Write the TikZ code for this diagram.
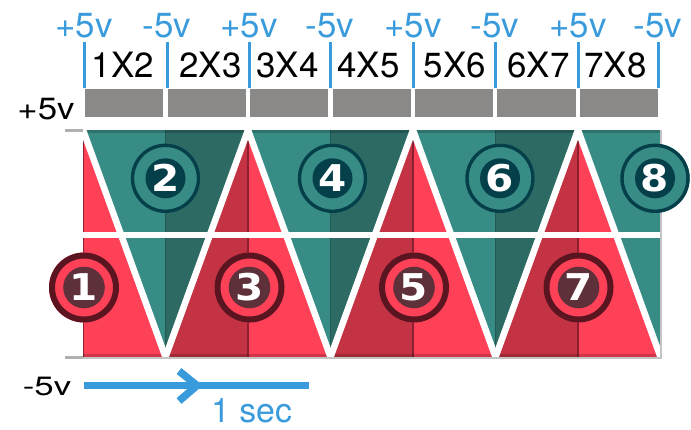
\documentclass[tikz,border=0pt]{standalone}
\usepackage{fontspec}
\usepackage{graphicx}
\setmainfont{TeX Gyre Heros}
\newfontfamily\numfont{DejaVu Sans}
\definecolor{redL}{HTML}{FF4158}
\definecolor{redD}{HTML}{C43343}
\definecolor{redS}{HTML}{8C2030}
\definecolor{tealL}{HTML}{388C86}
\definecolor{tealD}{HTML}{2C6A63}
\definecolor{tealS}{HTML}{225952}
\definecolor{ringT}{HTML}{053F4A}
\definecolor{ringR}{HTML}{5A1521}
\definecolor{diskR}{HTML}{5E3039}
\definecolor{barG}{HTML}{8A8987}
\definecolor{blueC}{HTML}{3A9BDC}
\definecolor{shadowG}{HTML}{C4C4C4}
\tikzset{
  lbl/.style={anchor=base, inner sep=0pt, font=\fontsize{35}{40}\selectfont},
  bluelbl/.style={lbl, text=blueC},
  numlbl/.style={inner sep=0pt, text=white, font=\numfont\bfseries\fontsize{37}{37}\selectfont},
  whiteline/.style={white, line width=6.5bp, line join=miter},
}
\newcommand{\tealcircle}[3]{%
  \fill[tealL] (#1,#2) circle (34.7bp);
  \draw[ringT, line width=3.4bp] (#1,#2) circle (33bp);
  \fill[ringT] (#1,#2) circle (20bp);
  \node[numlbl] (num#3) at (#1,#2) {\scalebox{1.1}[1]{#3}};
}
\newcommand{\redcircle}[3]{%
  \fill[redL] (#1,#2) circle (35bp);
  \draw[ringR, line width=6bp] (#1,#2) circle (32bp);
  \fill[diskR] (#1,#2) circle (20.8bp);
  \node[numlbl] (num#3) at (#1,#2) {\scalebox{1.1}[1]{#3}};
}
\begin{document}
\begin{tikzpicture}[x=1bp,y=-1bp]
\useasboundingbox (0,0) rectangle (691,429);

% panel
\begin{scope}
\clip (83,130) rectangle (660,357);
\foreach \k in {1,3,5,7} {
  \pgfmathsetmacro\xl{83+(\k-1)*82.5}
  \pgfmathsetmacro\xm{83+\k*82.5}
  \pgfmathsetmacro\xr{83+(\k+1)*82.5}
  \fill[tealL] (\xl,130) -- (\xm,130) -- (\xm,357) -- cycle;
  \fill[tealD] (\xm,130) -- (\xr,130) -- (\xm,357) -- cycle;
  \draw[tealS, line width=1.5bp] (\xm,130) -- (\xm,357);
}
\foreach \k in {0,2,4,6} {
  \pgfmathsetmacro\xl{83+(\k-1)*82.5}
  \pgfmathsetmacro\xm{83+\k*82.5}
  \pgfmathsetmacro\xr{83+(\k+1)*82.5}
  \fill[redD] (\xm,130) -- (\xm,357) -- (\xl,357) -- cycle;
  \fill[redL] (\xm,130) -- (\xr,357) -- (\xm,357) -- cycle;
  \draw[redS, line width=1.5bp] (\xm,130) -- (\xm,357);
}
\fill[black, opacity=0.18] (83,130) rectangle (660,133);
\fill[black, opacity=0.18] (83,354) rectangle (660,357);
\fill[white] (83,232) rectangle (660,238);
\foreach \k in {0,2,4,6} {
  \pgfmathsetmacro\xl{83+(\k-1)*82.5}
  \pgfmathsetmacro\xm{83+\k*82.5}
  \pgfmathsetmacro\xr{83+(\k+1)*82.5}
  \draw[whiteline] (\xl,357) -- (\xm,130) -- (\xr,357);
}
\end{scope}
\draw[shadowG, line width=2bp] (83,358) -- (661,358) -- (661,130);
\draw[shadowG!90!black, line width=3bp] (65,130.5) -- (83,130.5);
\draw[shadowG!90!black, line width=3bp] (65,357.5) -- (83,357.5);

% grey bars
\foreach \a/\b [count=\i] in {85/163,168/246,250/328,333/411,415/493,497/576,580/658}
  \fill[barG] (\a,89) rectangle (\b,117);

% blue ticks and labels
\foreach \x/\t [count=\i] in {84/+5v,167/-5v,249/+5v,330/-5v,413/+5v,495/-5v,578/+5v,658/-5v} {
  \draw[blueC, line width=3bp] (\x,42) -- (\x,88);
  \node[bluelbl] (v\i) at (\x,37) {\t};
}
\foreach \x/\t [count=\i] in {123/1X2,210.5/2X3,287.5/3X4,368.5/4X5,455/5X6,538.5/6X7,615.5/7X8}
  \node[lbl] (p\i) at (\x,77) {\t};

\node[lbl] (plus) at (46,119) {\scalebox{1}[0.88]{+5v}};
\node[lbl] (minus) at (47,395) {\scalebox{1}[0.76]{-5v}};

% circles
\tealcircle{165.5}{178.3}{2}
\tealcircle{332.5}{178.3}{4}
\tealcircle{500}{178.3}{6}
\tealcircle{655}{178.3}{8}
\redcircle{84}{287.5}{1}
\redcircle{249.5}{287.5}{3}
\redcircle{414}{287.5}{5}
\redcircle{578.5}{287.5}{7}

% time arrow
\coordinate (t0) at (84,385.5);
\coordinate (t1) at (309,385.5);
\coordinate (tip) at (197,385.5);
\draw[blueC, line width=7.5bp] (t0) -- (t1);
\draw[blueC, line width=7.5bp, line join=miter] (179,371) -- (tip) -- (179,401);
\node[bluelbl, font=\fontsize{34}{38}\selectfont] (sec) at (251.5,422) {1 sec};
\end{tikzpicture}
\end{document}
